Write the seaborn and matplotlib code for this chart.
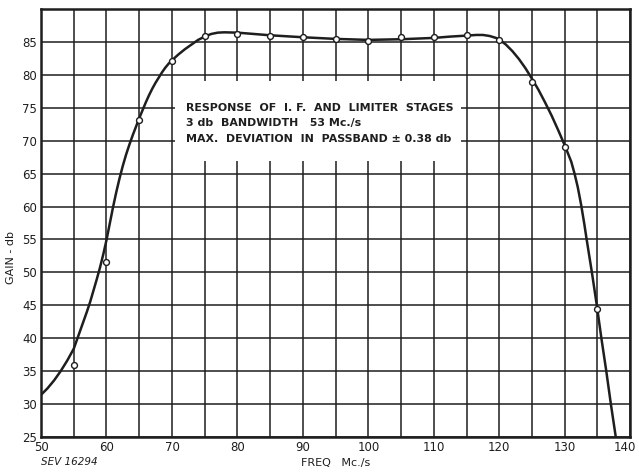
import seaborn as sns
import matplotlib.pyplot as plt
import matplotlib.patches as mpatches
import matplotlib.transforms as mtransforms
import pandas as pd

# measured points (open circles)
freq = [55, 60, 65, 70, 75, 80, 85, 90, 95, 100, 105, 110, 115, 120, 125, 130, 135]
gain = [36.0, 51.6, 73.2, 82.1, 85.9, 86.2, 85.9, 85.7, 85.4, 85.2, 85.8, 85.8, 86.1, 85.25, 78.9, 69.1, 44.5]

# smooth response curve
curve_freq = [50, 51, 52, 53, 54, 55, 56, 57, 57.5, 58, 58.5, 59, 59.5, 60, 60.5, 61, 61.5,
              62, 62.5, 63, 63.5, 64, 64.5, 65, 65.5, 66, 66.5, 67, 67.5, 68, 68.5, 69, 69.5,
              70, 71, 72, 73, 74, 75, 76, 77, 78, 80, 82.5, 85, 87.5, 90, 95, 100, 105, 110,
              112.5, 115, 116.5, 117.5, 118.5, 119.5, 120, 121, 122, 123, 124, 125, 126, 127,
              128, 129, 130, 131, 131.5, 132, 132.5, 133, 133.35, 134.15, 134.9, 135.6, 136.35,
              137.05, 137.8]
curve_gain = [31.4, 32.4, 33.6, 35.0, 36.6, 38.4, 41.2, 44.0, 45.5, 47.2, 48.9, 50.7, 52.7,
              54.9, 57.4, 59.9, 62.2, 64.3, 66.2, 67.9, 69.4, 70.8, 72.1, 73.4, 74.6, 75.8,
              76.9, 77.9, 78.8, 79.6, 80.4, 81.1, 81.7, 82.2, 83.1, 83.9, 84.6, 85.3, 85.8,
              86.2, 86.4, 86.45, 86.4, 86.2, 86.0, 85.85, 85.7, 85.45, 85.3, 85.4, 85.6, 85.8,
              85.95, 86.05, 86.05, 85.9, 85.6, 85.35, 84.6, 83.6, 82.4, 81.0, 79.4, 77.7, 75.8,
              73.8, 71.6, 69.3, 66.8, 65.0, 62.9, 60.3, 57.3, 55.0, 50.0, 45.0, 40.0, 35.0,
              30.0, 25.0]

pts = pd.DataFrame({'freq': freq, 'gain': gain})
curve = pd.DataFrame({'freq': curve_freq, 'gain': curve_gain})

sns.set_theme(style='white')
plt.rcParams['font.family'] = ['DejaVu Sans']
plt.rcParams['lines.solid_joinstyle'] = 'round'
ink = '#1e1e1e'

fig = plt.figure(figsize=(6.39, 4.73), dpi=100)
ax = fig.add_axes([0.0642, 0.0761, 0.922, 0.905])

sns.lineplot(data=curve, x='freq', y='gain', sort=False, color=ink, lw=1.8, ax=ax, zorder=4)
sns.scatterplot(data=pts, x='freq', y='gain', marker='o', s=18, facecolor='white',
                edgecolor=ink, linewidth=1.0, ax=ax, zorder=5)

ax.set_xlim(50, 140)
ax.set_ylim(25, 90)
ax.set_xticks(range(50, 141, 10))
ax.set_xticks(range(55, 140, 10), minor=True)
ax.set_yticks(range(25, 91, 5))
ax.set_yticklabels([str(v) for v in range(25, 86, 5)] + [''])
ax.grid(True, which='both', color=ink, lw=1.1)
ax.set_axisbelow(True)
ax.tick_params(length=0, labelsize=8.5, colors=ink, pad=3)
for sp in ax.spines.values():
    sp.set_color(ink)
    sp.set_linewidth(1.8)

# nudge the last x label so it stays on the page
last = ax.get_xticklabels()[-1]
last.set_transform(last.get_transform() + mtransforms.ScaledTranslation(-4 / 72, 0, fig.dpi_scale_trans))

# white panel for the caption
ax.add_patch(mpatches.Rectangle((70.5, 66.9), 43.6, 12.1, facecolor='white',
                                edgecolor='none', zorder=2))
caption = ['RESPONSE  OF  I. F.  AND  LIMITER  STAGES',
           '3 db  BANDWIDTH   53 Mc./s',
           'MAX.  DEVIATION  IN  PASSBAND \u00b1 0.38 db']
for i, line in enumerate(caption):
    ax.text(72.1, 75.0 - i * 2.35, line, fontsize=7.9, fontweight='bold', color=ink,
            ha='left', va='center', zorder=3)

ax.set_xlabel('FREQ   Mc./s', fontsize=8, color=ink, labelpad=3)
ax.set_ylabel('GAIN - db', fontsize=8, color=ink, labelpad=4)
ax.yaxis.set_label_coords(-0.043, 0.42)
fig.text(0.064, 0.012, 'SEV 16294', fontsize=7.5, style='italic', color=ink, va='bottom')

fig.savefig('out.png', dpi=100)
